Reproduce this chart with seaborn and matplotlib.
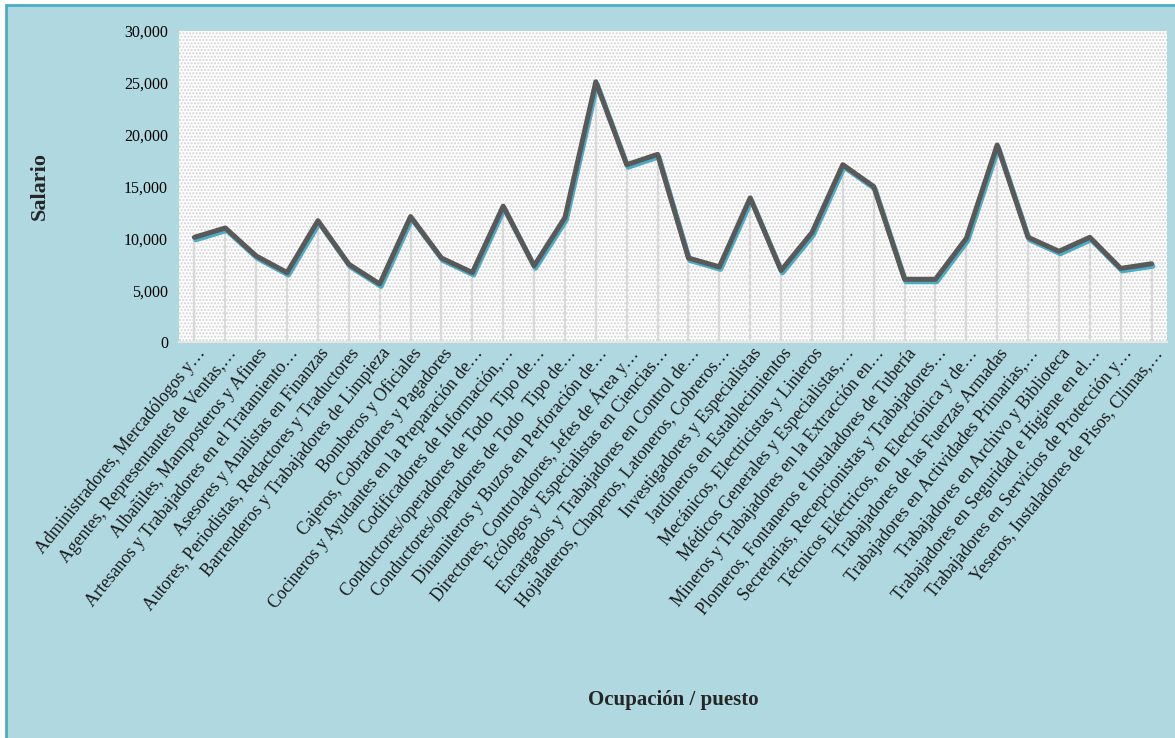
"""Salario por ocupación / puesto - gráfica de línea con sombra."""

import matplotlib

matplotlib.use("Agg")

import matplotlib.patheffects as pe
import matplotlib.pyplot as plt
import matplotlib.transforms as mtransforms
import pandas as pd
import seaborn as sns
from matplotlib.patches import Rectangle
from matplotlib.ticker import FuncFormatter, MultipleLocator

OCUPACIONES = [
    "Administradores, Mercadólogos y…",
    "Agentes, Representantes de Ventas,…",
    "Albañiles, Mamposteros y Afines",
    "Artesanos y Trabajadores en el Tratamiento…",
    "Asesores y Analistas en Finanzas",
    "Autores, Periodistas, Redactores y Traductores",
    "Barrenderos y Trabajadores de Limpieza",
    "Bomberos y Oficiales",
    "Cajeros, Cobradores y Pagadores",
    "Cocineros y Ayudantes en la Preparación de…",
    "Codificadores de Información,…",
    "Conductores/operadores de Todo  Tipo de…",
    "Conductores/operadores de Todo  Tipo de…",
    "Dinamiteros y Buzos en Perforación de…",
    "Directores, Controladores, Jefes de Área y…",
    "Ecólogos y Especialistas en Ciencias…",
    "Encargados y Trabajadores en Control de…",
    "Hojalateros, Chaperos, Latoneros, Cobreros…",
    "Investigadores y Especialistas",
    "Jardineros en Establecimientos",
    "Mecánicos, Electricistas y Linieros",
    "Médicos Generales y Especialistas,…",
    "Mineros y Trabajadores en la Extracción en…",
    "Plomeros, Fontaneros e Instaladores de Tubería",
    "Secretarias, Recepcionistas y Trabajadores…",
    "Técnicos Eléctricos, en Electrónica y de…",
    "Trabajadores de las Fuerzas Armadas",
    "Trabajadores en Actividades Primarias,…",
    "Trabajadores en Archivo y Biblioteca",
    "Trabajadores en Seguridad e Higiene en el…",
    "Trabajadores en Servicios de Protección y…",
    "Yeseros, Instaladores de Pisos, Climas,…",
]

SALARIOS = [
    10100, 11000, 8300, 6700, 11700, 7500, 5600, 12100,
    8100, 6700, 13100, 7350, 12000, 25100, 17100, 18100,
    8100, 7250, 13900, 6900, 10550, 17100, 15000, 6050,
    6050, 10000, 19000, 10100, 8750, 10100, 7100, 7550,
]

Y_TICKS_STEP = 5000
Y_MAX = 30000

FONDO = "#b0d8e0"
BORDE = "#4bacc6"
LINEA = "#595959"

sns.set_theme(style="white")
plt.rcParams["font.family"] = ["Liberation Serif", "DejaVu Serif"]

df = pd.DataFrame({"pos": range(len(OCUPACIONES)), "salario": SALARIOS})

fig = plt.figure(figsize=(11.75, 7.38), dpi=100, facecolor="white")
fig.patches.append(
    Rectangle(
        (6 / 1175, -0.01), 1.1, 1 - 5 / 738 + 0.01,
        transform=fig.transFigure, facecolor=FONDO, edgecolor=BORDE,
        linewidth=2, zorder=-10,
    )
)

ax = fig.add_axes([179 / 1175, 1 - 342 / 738, 988 / 1175, 311 / 738])
ax.set_facecolor("white")
ax.add_patch(
    Rectangle(
        (0, 0), 1, 1, transform=ax.transAxes, facecolor="white",
        edgecolor="#d2d2d2", hatch=".....", linewidth=0, zorder=0,
    )
)

# lineas verticales hasta el eje
ax.vlines(df["pos"], 0, df["salario"], color="#d9d9d9", linewidth=1.6, zorder=2)

sns.lineplot(
    data=df, x="pos", y="salario", ax=ax, color=LINEA, linewidth=3.6,
    zorder=3,
    path_effects=[
        pe.SimpleLineShadow(offset=(1.0, -1.8), shadow_color=BORDE, alpha=1.0),
        pe.Normal(),
    ],
)

ax.set_xlim(-0.5, len(OCUPACIONES) - 0.5)
ax.set_ylim(0, Y_MAX)
ax.yaxis.set_major_locator(MultipleLocator(Y_TICKS_STEP))
ax.yaxis.set_major_formatter(FuncFormatter(lambda v, _: f"{int(v):,}"))
ax.tick_params(axis="y", length=0, pad=8, labelsize=11.5, labelcolor="black")
ax.tick_params(axis="x", length=0, pad=6)

ax.set_xticks(df["pos"])
ax.set_xticklabels(
    OCUPACIONES, rotation=51, ha="right", va="center",
    rotation_mode="anchor", fontsize=12.8, color="#1a1a1a",
)
shift = mtransforms.ScaledTranslation(8 / 100, 0, fig.dpi_scale_trans)
for lbl in ax.get_xticklabels():
    lbl.set_transform(lbl.get_transform() + shift)

for side in ["top", "left", "right"]:
    ax.spines[side].set_visible(False)
ax.spines["bottom"].set_color("#e6e6e6")
ax.spines["bottom"].set_linewidth(1.5)
ax.grid(False)

ax.set_xlabel("Ocupación / puesto", fontsize=15, fontweight="bold", va="center")
ax.xaxis.set_label_coords(0.5, -1.151)
ax.set_ylabel("Salario", fontsize=16, fontweight="bold", va="center")
ax.yaxis.set_label_coords(-0.1407, 0.5)

fig.savefig("out.png", dpi=100, facecolor=fig.get_facecolor())
